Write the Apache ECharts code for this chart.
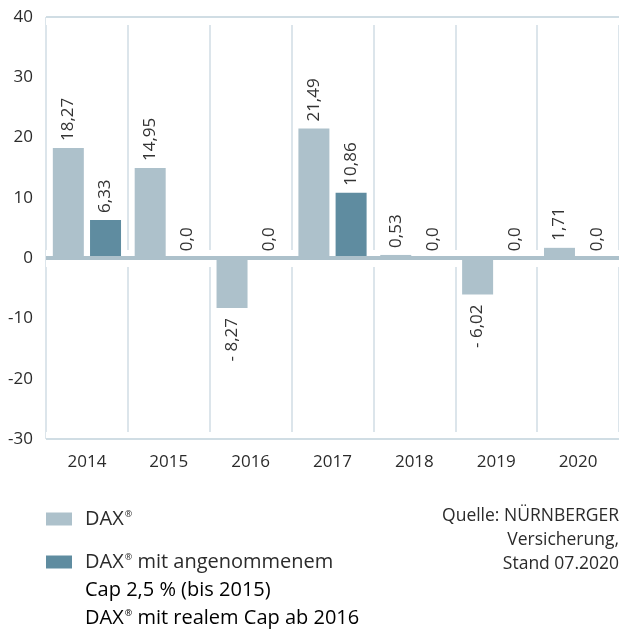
<!DOCTYPE html>
<html>
<head>
<meta charset="utf-8">
<script src="https://cdn.jsdelivr.net/npm/echarts@6/dist/echarts.min.js"></script>
<style>
  html, body { margin: 0; padding: 0; background: #fff; }
  #chart { width: 619px; height: 632px; }
</style>
</head>
<body>
<div id="chart"></div>
<script>
const years = ['2014', '2015', '2016', '2017', '2018', '2019', '2020'];
const daxValues = [18.27, 14.95, -8.27, 21.49, 0.53, -6.02, 1.71];
const capValues = [6.33, 0, 0, 10.86, 0, 0, 0];
const yTicks = { min: -30, max: 40, step: 10 };
const sourceLines = ['Quelle: NÜRNBERGER', 'Versicherung,', 'Stand 07.2020'];

const FONT = '"Open Sans", Lato, sans-serif';
const TEXT = '#2b2b2b';
const LIGHT = '#adc1cb';
const DARK = '#5f8ca0';
const GRID = '#d0dde4';

// "18,27", "0,0", "- 8,27"
const fmt = (v) => {
  if (v === 0) return '0,0';
  return (v < 0 ? '- ' : '') + Math.abs(v).toFixed(2).replace('.', ',');
};

const toBarData = (arr) => arr.map((v) => ({
  value: v,
  label: v < 0
    ? { position: 'bottom', align: 'right', distance: 10 }
    : { position: 'top', align: 'left', distance: 7 }
}));

const labelStyle = {
  show: true,
  rotate: 90,
  verticalAlign: 'middle',
  fontFamily: FONT,
  fontSize: 17,
  color: '#333',
  formatter: (p) => fmt(p.value)
};

const richSup = {
  t: { fontFamily: FONT, fontSize: 20, color: TEXT, lineHeight: 24, padding: [0, 0, 0, 8] },
  s: { fontFamily: FONT, fontSize: 20, color: TEXT, lineHeight: 24 },
  r: { fontFamily: FONT, fontSize: 9, color: TEXT, lineHeight: 9, verticalAlign: 'top', padding: [3, 0, 0, 1] }
};

const legendBase = {
  orient: 'vertical',
  left: 46,
  padding: 0,
  itemWidth: 26,
  itemHeight: 13,
  icon: 'rect',
  selectedMode: false,
  textStyle: { rich: richSup }
};

// white bands that break the vertical split lines near top, zero and bottom
const whiteBand = (y, w) => ({ yAxis: y, lineStyle: { color: '#fff', width: w, type: 'solid' } });

const chart = echarts.init(document.getElementById('chart'));

chart.setOption({
  animation: false,
  backgroundColor: '#fff',
  grid: { left: 46, top: 17, width: 574, height: 422, containLabel: false },
  legend: [
    Object.assign({}, legendBase, {
      top: 507,
      data: ['DAX'],
      formatter: () => '{t|DAX}{r|®}'
    }),
    Object.assign({}, legendBase, {
      top: 550,
      data: ['DAX mit Cap'],
      formatter: () => '{t|DAX}{r|®}{s| mit angenommenem}'
    })
  ],
  graphic: [
    {
      type: 'text',
      left: 85,
      top: 580,
      style: {
        text: '{s|Cap 2,5 % (bis 2015)}\n{s|DAX}{r|®}{s| mit realem Cap ab 2016}',
        rich: {
          s: { fontFamily: FONT, fontSize: 20, color: TEXT, lineHeight: 28 },
          r: { fontFamily: FONT, fontSize: 9, color: TEXT, lineHeight: 9, verticalAlign: 'top', padding: [5, 0, 0, 1] }
        }
      }
    }
  ].concat(sourceLines.map((line, i) => ({
    type: 'text',
    right: 0,
    top: 507 + i * 24,
    style: { text: line, fontFamily: FONT, fontSize: 17.5, fill: TEXT }
  }))),
  xAxis: {
    type: 'category',
    data: years,
    axisLine: { show: false },
    axisTick: { show: false },
    axisLabel: { fontFamily: FONT, fontSize: 17, color: TEXT, margin: 15 },
    splitLine: { show: true, lineStyle: { color: GRID, width: 1.5 } }
  },
  yAxis: {
    type: 'value',
    min: yTicks.min,
    max: yTicks.max,
    interval: yTicks.step,
    axisLine: { show: false },
    axisTick: { show: false },
    splitLine: { show: false },
    axisLabel: { fontFamily: FONT, fontSize: 17, color: TEXT, margin: 13 }
  },
  series: [
    {
      name: 'DAX',
      type: 'bar',
      barWidth: 31,
      barGap: '20%',
      itemStyle: { color: LIGHT },
      label: labelStyle,
      data: toBarData(daxValues),
      markLine: {
        silent: true,
        z: 1,
        symbol: ['none', 'none'],
        label: { show: false },
        data: [whiteBand(yTicks.max, 15), whiteBand(yTicks.min, 15), whiteBand(0, 17)]
      }
    },
    {
      name: 'DAX mit Cap',
      type: 'bar',
      barWidth: 31,
      itemStyle: { color: DARK },
      label: labelStyle,
      data: toBarData(capValues),
      markLine: {
        silent: true,
        symbol: ['none', 'none'],
        label: { show: false },
        data: [
          { yAxis: yTicks.max, lineStyle: { color: GRID, width: 2, type: 'solid' } },
          { yAxis: yTicks.min, lineStyle: { color: GRID, width: 2, type: 'solid' } },
          { yAxis: 0, lineStyle: { color: LIGHT, width: 4, type: 'solid' } }
        ]
      }
    }
  ]
});
</script>
</body>
</html>
